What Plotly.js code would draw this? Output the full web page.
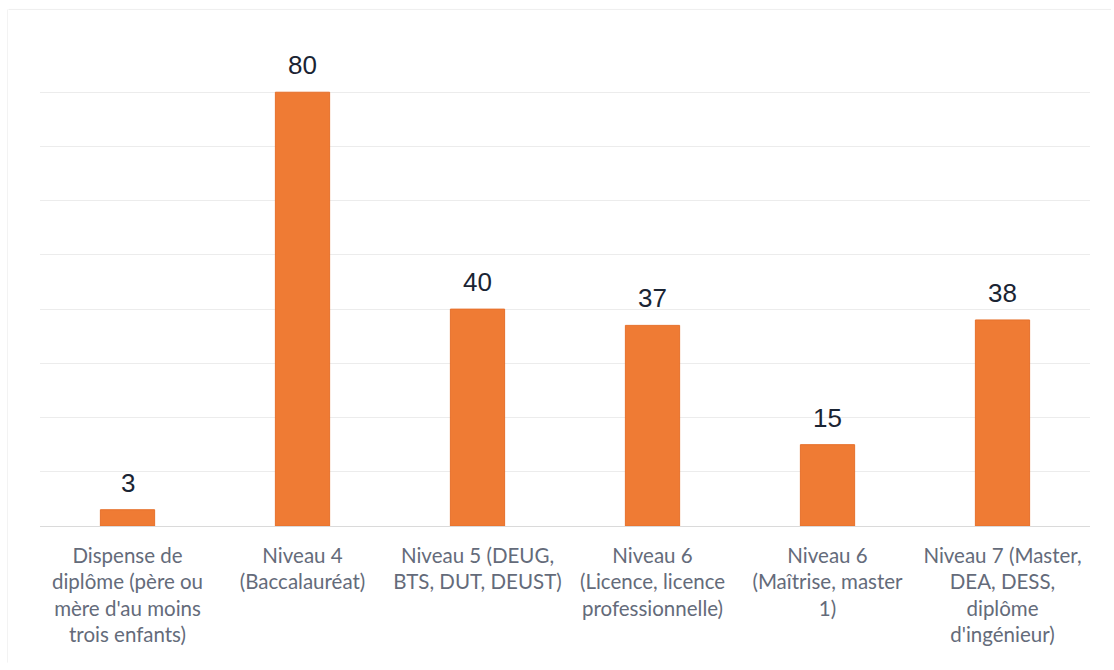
<!DOCTYPE html>
<html>
<head>
<meta charset="utf-8">
<script src="https://cdn.plot.ly/plotly-3.0.1.min.js"></script>
<style>html,body{margin:0;padding:0;background:#fff;}#chart{width:1114px;height:670px;}</style>
</head>
<body>
<div id="chart"></div>
<script>
const categories = [
  "Dispense de<br>diplôme (père ou<br>mère d'au moins<br>trois enfants)",
  "Niveau 4<br>(Baccalauréat)",
  "Niveau 5 (DEUG,<br>BTS, DUT, DEUST)",
  "Niveau 6<br>(Licence, licence<br>professionnelle)",
  "Niveau 6<br>(Maîtrise, master<br>1)",
  "Niveau 7 (Master,<br>DEA, DESS,<br>diplôme<br>d'ingénieur)"
];
const values = [3, 80, 40, 37, 15, 38];

const trace = {
  type: 'bar',
  x: categories,
  y: values,
  marker: {color: '#EF7B34', line: {color: '#E6702B', width: 1}},
  width: 0.31,
  hoverinfo: 'none'
};

const annotations = categories.map((c, i) => ({
  x: c, y: values[i], xref: 'x', yref: 'y',
  text: String(values[i]), showarrow: false,
  yanchor: 'bottom', yshift: 10,
  font: {family: 'Arial, Liberation Sans, sans-serif', size: 26, color: '#1A2433'}
}));

const layout = {
  width: 1114, height: 670,
  margin: {l: 40, r: 24, t: 38, b: 144},
  paper_bgcolor: '#fff', plot_bgcolor: '#fff',
  showlegend: false,
  xaxis: {
    type: 'category',
    tickfont: {family: 'Lato, Open Sans, sans-serif', size: 20.5, color: '#646B7A'},
    ticks: '', showline: false, showgrid: false, zeroline: false,
    ticklabelstandoff: 15
  },
  yaxis: {
    range: [0, 90], dtick: 10, showticklabels: false,
    showgrid: true, gridcolor: '#ECECEC', gridwidth: 1,
    zeroline: true, zerolinecolor: '#DADADA', zerolinewidth: 1,
    showline: false, ticks: ''
  },
  annotations: annotations,
  shapes: [
    {type: 'line', xref: 'paper', yref: 'paper', x0: -0.03, x1: 1.02, y0: 1.0585, y1: 1.0585, line: {color: '#EFEFEF', width: 1}},
    {type: 'line', xref: 'paper', yref: 'paper', x0: -0.031, x1: -0.031, y0: 1.0585, y1: -0.28, line: {color: '#F3F3F3', width: 1}}
  ]
};

Plotly.newPlot('chart', [trace], layout, {staticPlot: true});
</script>
</body>
</html>
